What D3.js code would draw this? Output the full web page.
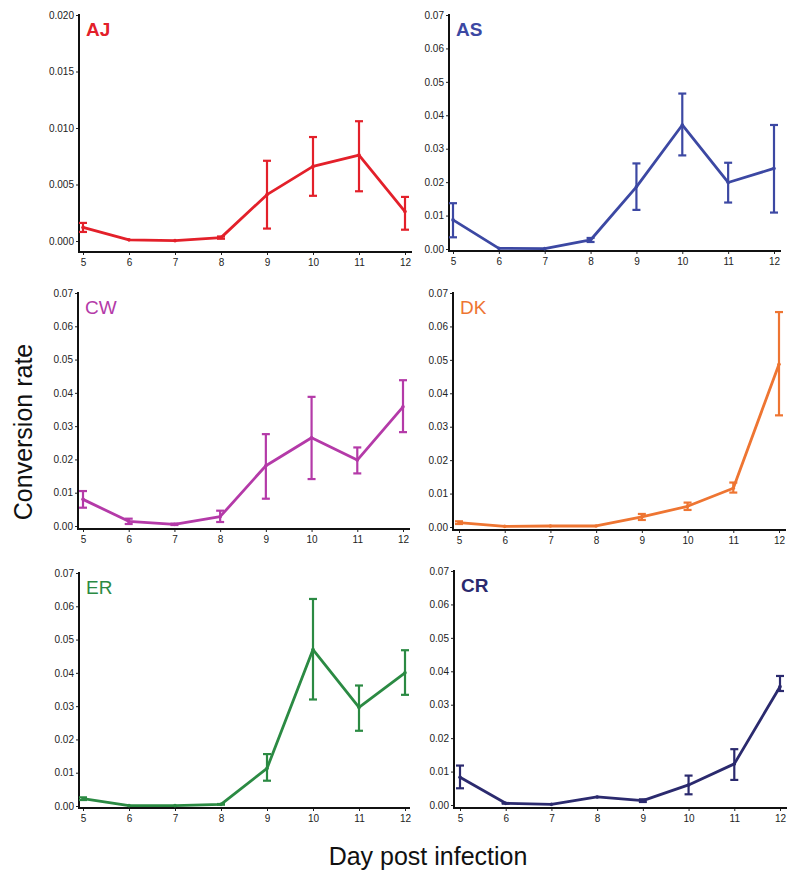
<!DOCTYPE html>
<html>
<head>
<meta charset="utf-8">
<script src="https://cdn.jsdelivr.net/npm/d3@7"></script>
<style>
  body { margin: 0; background: #fff; }
  svg { display: block; font-family: "Liberation Sans", Arial, Helvetica, sans-serif; }
</style>
</head>
<body>
<div id="chart"></div>
<script>
// days on the x axis
const days = [5, 6, 7, 8, 9, 10, 11, 12];

// mean conversion rate and error bar bounds
const ajMean = [0.0012, 0.0001, 0.00003, 0.0003, 0.0041, 0.0066, 0.0076, 0.0026];
const ajLow  = [0.0008, 0.0001, 0.00003, 0.0002, 0.0011, 0.0040, 0.0044, 0.0010];
const ajHigh = [0.0016, 0.0001, 0.00003, 0.0004, 0.0071, 0.0092, 0.0106, 0.0039];

const asMean = [0.0087, 0.0002, 0.0001, 0.0027, 0.0186, 0.0371, 0.0199, 0.0241];
const asLow  = [0.0035, 0.0002, 0.0001, 0.0021, 0.0117, 0.0280, 0.0139, 0.0109];
const asHigh = [0.0137, 0.0002, 0.0001, 0.0033, 0.0256, 0.0465, 0.0258, 0.0371];

const cwMean = [0.0080, 0.0014, 0.0005, 0.0028, 0.0181, 0.0265, 0.0198, 0.0358];
const cwLow  = [0.0055, 0.0006, 0.0003, 0.0012, 0.0082, 0.0141, 0.0158, 0.0282];
const cwHigh = [0.0105, 0.0022, 0.0007, 0.0046, 0.0276, 0.0388, 0.0236, 0.0438];

const dkMean = [0.0013, 0.0002, 0.0003, 0.0003, 0.0030, 0.0062, 0.0116, 0.0487];
const dkLow  = [0.0009, 0.0002, 0.0003, 0.0003, 0.0021, 0.0051, 0.0103, 0.0334];
const dkHigh = [0.0017, 0.0002, 0.0003, 0.0003, 0.0039, 0.0073, 0.0133, 0.0643];

const erMean = [0.0022, 0.0001, 0.0001, 0.0005, 0.0113, 0.0470, 0.0296, 0.0400];
const erLow  = [0.0018, 0.0001, 0.0001, 0.0004, 0.0076, 0.0320, 0.0226, 0.0334];
const erHigh = [0.0026, 0.0001, 0.0001, 0.0006, 0.0156, 0.0622, 0.0362, 0.0468];

const crMean = [0.0083, 0.0005, 0.0002, 0.0024, 0.0013, 0.0060, 0.0123, 0.0354];
const crLow  = [0.0050, 0.0004, 0.0002, 0.0024, 0.0009, 0.0032, 0.0075, 0.0341];
const crHigh = [0.0118, 0.0006, 0.0002, 0.0024, 0.0017, 0.0088, 0.0167, 0.0386];

// y tick values per panel
const ajTicks = [0, 0.005, 0.010, 0.015, 0.020];
const rateTicks = [0, 0.01, 0.02, 0.03, 0.04, 0.05, 0.06, 0.07];

const width = 800;
const height = 875;

const svg = d3.select("#chart").append("svg")
    .attr("width", width)
    .attr("height", height)
    .attr("viewBox", [0, 0, width, height]);

// panels: data + where they sit on the page
const panels = [
  { name: "AJ", color: "#e3202a", bold: true,  mean: ajMean, lo: ajLow, hi: ajHigh, ticks: ajTicks, fmt: ".3f",
    axisX: 79, x0: 83, x1: 405, xEnd: 412, yTop: 15, y0: 241, axisY: 252 },
  { name: "AS", color: "#3c48a3", bold: true,  mean: asMean, lo: asLow, hi: asHigh, ticks: rateTicks, fmt: ".2f",
    axisX: 449, x0: 453, x1: 774, xEnd: 781, yTop: 15, y0: 249, axisY: 251 },
  { name: "CW", color: "#b43aa8", bold: false, mean: cwMean, lo: cwLow, hi: cwHigh, ticks: rateTicks, fmt: ".2f",
    axisX: 78, x0: 83, x1: 403, xEnd: 410, yTop: 293, y0: 526, axisY: 529 },
  { name: "DK", color: "#ee7532", bold: false, mean: dkMean, lo: dkLow, hi: dkHigh, ticks: rateTicks, fmt: ".2f",
    axisX: 453, x0: 459, x1: 779, xEnd: 786, yTop: 293, y0: 527, axisY: 530 },
  { name: "ER", color: "#2b8a43", bold: false, mean: erMean, lo: erLow, hi: erHigh, ticks: rateTicks, fmt: ".2f",
    axisX: 79, x0: 83, x1: 405, xEnd: 410, yTop: 573, y0: 806, axisY: 808 },
  { name: "CR", color: "#2b2a6e", bold: true,  mean: crMean, lo: crLow, hi: crHigh, ticks: rateTicks, fmt: ".2f",
    axisX: 454, x0: 460, x1: 780, xEnd: 787, yTop: 571, y0: 805, axisY: 808 }
];

panels.forEach(p => {
  const g = svg.append("g");
  const yMax = d3.max(p.ticks);
  const x = d3.scaleLinear([5, 12], [p.x0, p.x1]);
  const y = d3.scaleLinear([0, yMax], [p.y0, p.yTop]);

  const rows = days.map((d, i) => ({ day: d, v: p.mean[i], lo: p.lo[i], hi: p.hi[i] }));

  // y axis
  g.append("g")
      .attr("transform", `translate(${p.axisX},0)`)
      .call(d3.axisLeft(y).tickValues(p.ticks).tickFormat(d3.format(p.fmt)).tickSize(3).tickSizeOuter(0))
      .call(g => g.select(".domain").remove())
      .call(g => g.selectAll(".tick line").attr("stroke", "#222"))
      .call(g => g.selectAll(".tick text").attr("x", -5).attr("font-size", 10).attr("fill", "#222")
          .attr("font-family", "Liberation Sans, Arial, sans-serif"));

  g.append("line")
      .attr("x1", p.axisX).attr("x2", p.axisX)
      .attr("y1", p.yTop - 1).attr("y2", p.axisY + 1)
      .attr("stroke", "#111").attr("stroke-width", 2);

  // x axis
  g.append("g")
      .attr("transform", `translate(0,${p.axisY})`)
      .call(d3.axisBottom(x).tickValues(days).tickFormat(d3.format("d")).tickSize(3).tickSizeOuter(0))
      .call(g => g.select(".domain").remove())
      .call(g => g.selectAll(".tick line").attr("stroke", "#222"))
      .call(g => g.selectAll(".tick text").attr("y", 7).attr("font-size", 10).attr("fill", "#222")
          .attr("font-family", "Liberation Sans, Arial, sans-serif"));

  g.append("line")
      .attr("x1", p.axisX - 1).attr("x2", p.xEnd)
      .attr("y1", p.axisY).attr("y2", p.axisY)
      .attr("stroke", "#111").attr("stroke-width", 2);

  // mean line
  g.append("path")
      .attr("fill", "none")
      .attr("stroke", p.color)
      .attr("stroke-width", 2.8)
      .attr("stroke-linejoin", "round")
      .attr("d", d3.line().x(d => x(d.day)).y(d => y(d.v))(rows));

  // error bars
  const eb = g.append("g").attr("stroke", p.color).attr("stroke-width", 2.2);
  rows.filter(d => d.hi > d.lo).forEach(d => {
    const cx = x(d.day);
    eb.append("line").attr("x1", cx).attr("x2", cx).attr("y1", y(d.lo)).attr("y2", y(d.hi));
    eb.append("line").attr("x1", cx - 4).attr("x2", cx + 4).attr("y1", y(d.lo)).attr("y2", y(d.lo));
    eb.append("line").attr("x1", cx - 4).attr("x2", cx + 4).attr("y1", y(d.hi)).attr("y2", y(d.hi));
  });

  // small point markers
  g.append("g").selectAll("circle")
    .data(rows)
    .join("circle")
      .attr("cx", d => x(d.day))
      .attr("cy", d => y(d.v))
      .attr("r", 1.8)
      .attr("fill", p.color);

  // panel label
  g.append("text")
      .attr("x", p.axisX + 7)
      .attr("y", p.yTop + 21)
      .attr("fill", p.color)
      .attr("font-size", 19)
      .attr("font-weight", p.bold ? "bold" : "normal")
      .text(p.name);
});

// shared axis titles
svg.append("text")
    .attr("transform", "translate(32,432) rotate(-90)")
    .attr("text-anchor", "middle")
    .attr("font-size", 25)
    .attr("fill", "#111")
    .text("Conversion rate");

svg.append("text")
    .attr("x", 428)
    .attr("y", 865)
    .attr("text-anchor", "middle")
    .attr("font-size", 25)
    .attr("fill", "#111")
    .text("Day post infection");
</script>
</body>
</html>
